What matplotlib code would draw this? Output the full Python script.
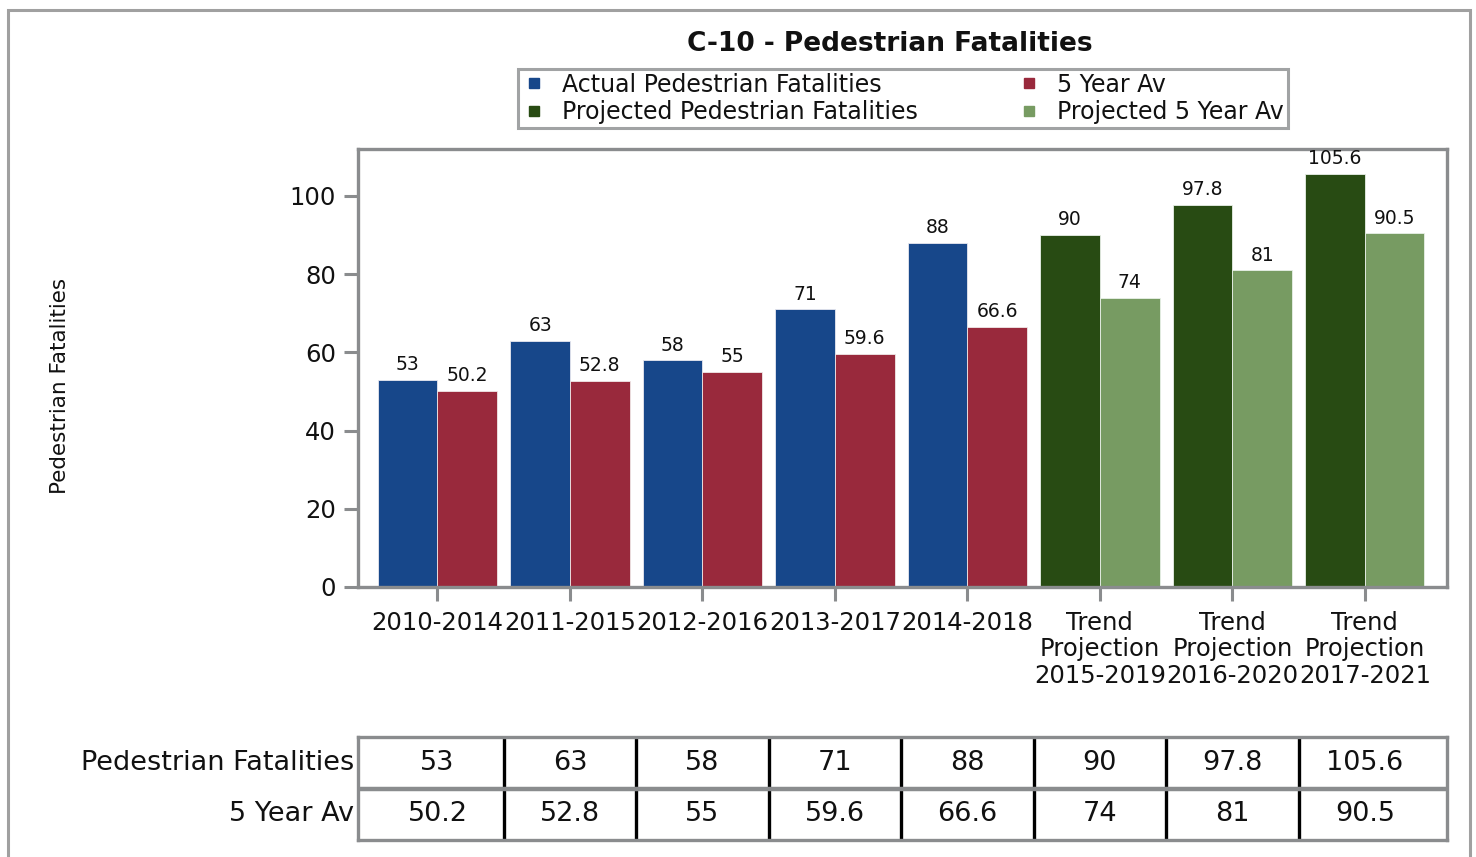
import matplotlib.pyplot as plt
from matplotlib.lines import Line2D
from matplotlib.patches import Rectangle

# data
categories = ['2010-2014', '2011-2015', '2012-2016', '2013-2017', '2014-2018',
              'Trend\nProjection\n2015-2019', 'Trend\nProjection\n2016-2020',
              'Trend\nProjection\n2017-2021']
ped_fatalities = [53, 63, 58, 71, 88, 90, 97.8, 105.6]
five_year_av = [50.2, 52.8, 55, 59.6, 66.6, 74, 81, 90.5]
n_actual = 5
row_labels = ['Pedestrian Fatalities', '5 Year Av']

c_blue = '#17478a'
c_red = '#99293c'
c_dgreen = '#284b13'
c_lgreen = '#779b62'
c_gray = '#8a8c8e'
c_text = '#111111'

plt.rcParams['font.family'] = ['DejaVu Sans']

fig = plt.figure(figsize=(14.76, 8.57), dpi=100)

# outer frame
fig.patches.append(Rectangle((8 / 1476, -0.05), 1462 / 1476, 1.05 - 10 / 857,
                             transform=fig.transFigure, fill=False,
                             edgecolor='#a0a0a0', linewidth=2.2))

ax = fig.add_axes([358 / 1476, 1 - 587 / 857, 1089 / 1476, 438 / 857])
x = list(range(len(categories)))
w = 0.45
xa = x[:n_actual]
xp = x[n_actual:]

b1 = ax.bar([i - w / 2 for i in xa], ped_fatalities[:n_actual], w, color=c_blue,
            edgecolor='#e8e8f0', linewidth=0.6)
b2 = ax.bar([i + w / 2 for i in xa], five_year_av[:n_actual], w, color=c_red,
            edgecolor='#f0e8e8', linewidth=0.6)
b3 = ax.bar([i - w / 2 for i in xp], ped_fatalities[n_actual:], w, color=c_dgreen,
            edgecolor='#e8f0e8', linewidth=0.6)
b4 = ax.bar([i + w / 2 for i in xp], five_year_av[n_actual:], w, color=c_lgreen,
            edgecolor='#e8f0e8', linewidth=0.6)

for bars in (b1, b2, b3, b4):
    ax.bar_label(bars, labels=['{:g}'.format(b.get_height()) for b in bars],
                 padding=4, fontsize=13.5, color=c_text)

ax.set_xlim(-0.6, 7.62)
ax.set_ylim(0, 112)
ax.set_yticks([0, 20, 40, 60, 80, 100])
ax.set_xticks(x)
ax.set_xticklabels(categories, fontsize=17.5, color=c_text, linespacing=1.15)
ax.tick_params(axis='y', labelsize=17.5, labelcolor=c_text, length=10, width=2.2,
               color=c_gray, pad=6)
ax.tick_params(axis='x', length=10, width=2.2, color=c_gray, pad=7)
for s in ax.spines.values():
    s.set_color(c_gray)
    s.set_linewidth(2.4)

ax.set_ylabel('Pedestrian Fatalities', fontsize=15.5, color=c_text)
ax.yaxis.set_label_coords((70 - 358) / 1089, 0.46)

fig.text(890 / 1476, 1 - 44 / 857, 'C-10 - Pedestrian Fatalities', ha='center',
         va='center', fontsize=19, fontweight='bold', color=c_text)

handles = [Line2D([], [], marker='s', ls='none', color=c_blue, markersize=7),
           Line2D([], [], marker='s', ls='none', color=c_dgreen, markersize=7),
           Line2D([], [], marker='s', ls='none', color=c_red, markersize=7),
           Line2D([], [], marker='s', ls='none', color=c_lgreen, markersize=7)]
labels = ['Actual Pedestrian Fatalities', 'Projected Pedestrian Fatalities',
          '5 Year Av', 'Projected 5 Year Av']
leg = fig.legend(handles, labels, ncol=2, loc='center',
                 bbox_to_anchor=(903 / 1476, 1 - 98.5 / 857), fontsize=17,
                 frameon=True, fancybox=False, borderpad=0.15, labelspacing=0.15,
                 handletextpad=0.7, columnspacing=4.2, handlelength=1.0,
                 borderaxespad=0)
leg.get_frame().set_edgecolor(c_gray)
leg.get_frame().set_linewidth(2.2)
for t in leg.get_texts():
    t.set_color(c_text)

# data table below
tab = fig.add_axes([358 / 1476, 1 - 840 / 857, 1089 / 1476, 103 / 857])
tab.set_xlim(ax.get_xlim())
tab.set_ylim(0, 2)
tab.set_xticks([])
tab.set_yticks([])
for s in tab.spines.values():
    s.set_color(c_gray)
    s.set_linewidth(2.4)
for i in x[:-1]:
    tab.axvline(i + 0.5, color='black', linewidth=2.4)
tab.axhline(1, color=c_gray, linewidth=3.2)
for i in x:
    tab.text(i, 1.5, '{:g}'.format(ped_fatalities[i]), ha='center', va='center',
             fontsize=19.5, color=c_text)
    tab.text(i, 0.5, '{:g}'.format(five_year_av[i]), ha='center', va='center',
             fontsize=19.5, color=c_text)
tab.text(-0.63, 1.5, row_labels[0], ha='right', va='center', fontsize=19.5,
         color=c_text)
tab.text(-0.63, 0.5, row_labels[1], ha='right', va='center', fontsize=19.5,
         color=c_text)

fig.savefig('out.png', dpi=100)
